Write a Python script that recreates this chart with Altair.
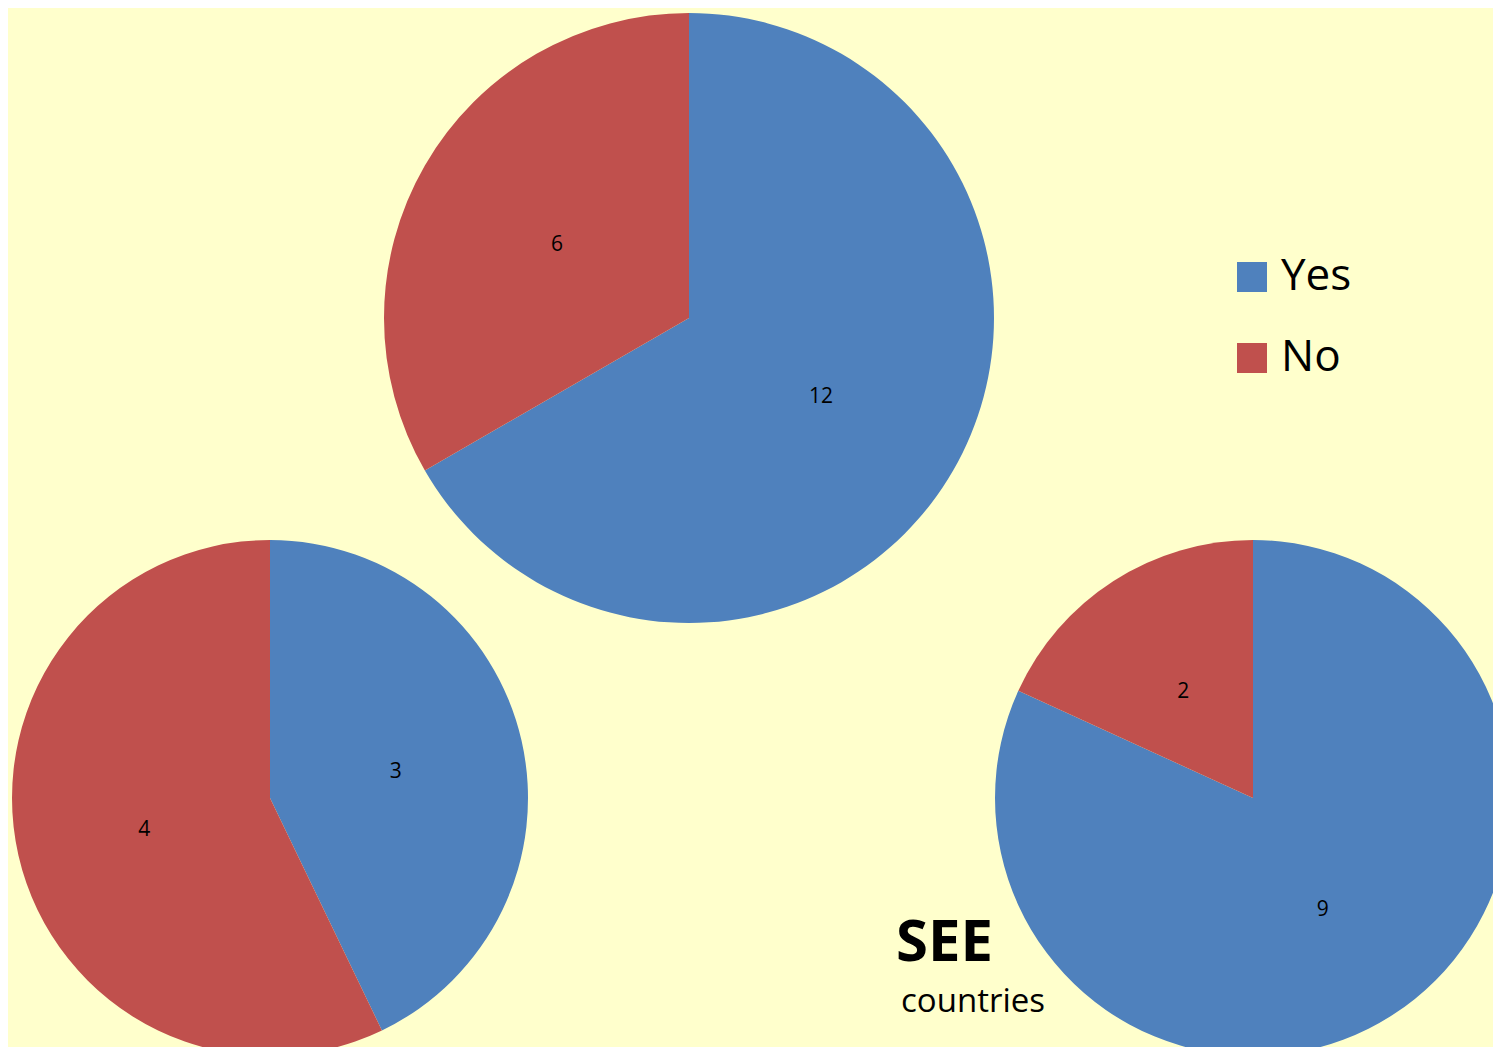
import altair as alt
import pandas as pd

categories = ["Yes", "No"]
colors = ["#4F81BD", "#C0504D"]
pie_top = [12, 6]
pie_left = [3, 4]
pie_right = [9, 2]

W, H = 1485, 1039
BG = "#FFFFCC"
FONT = "Open Sans"


def frame(values):
    return pd.DataFrame({"answer": categories, "value": values, "idx": list(range(len(categories)))})


color = alt.Color(
    "answer:N",
    scale=alt.Scale(domain=categories, range=colors),
    legend=alt.Legend(
        title=None,
        orient="none",
        legendX=1222,
        legendY=247,
        symbolType="square",
        symbolSize=900,
        symbolStrokeWidth=0,
        labelFont=FONT,
        labelFontSize=44,
        labelColor="black",
        labelOffset=7,
        rowPadding=37,
        padding=0,
    ),
)


def pie(values, cx, cy, r):
    base = alt.Chart(frame(values)).encode(
        theta=alt.Theta("value:Q", stack=True),
        order=alt.Order("idx:Q"),
        x=alt.value(cx),
        y=alt.value(cy),
    )
    arc = base.mark_arc(radius=r, stroke=None).encode(color=color)
    txt = base.mark_text(radius=r * 0.5, font=FONT, fontSize=21, color="black",
                         align="center", baseline="middle", dy=3).encode(text="value:Q")
    return alt.layer(arc, txt)


title_df = pd.DataFrame({"t": ["SEE"]})
sub_df = pd.DataFrame({"t": ["countries"]})
see = alt.Chart(title_df).mark_text(font=FONT, fontSize=58, fontWeight="bold", color="black",
                                    align="left", baseline="alphabetic").encode(
    text="t:N", x=alt.value(888), y=alt.value(953))
countries = alt.Chart(sub_df).mark_text(font=FONT, fontSize=33, color="black",
                                        align="left", baseline="alphabetic").encode(
    text="t:N", x=alt.value(893), y=alt.value(1004))

chart = alt.layer(
    pie(pie_top, 681, 310, 305),
    pie(pie_left, 262, 790, 258),
    pie(pie_right, 1245, 790, 258),
    see,
    countries,
).resolve_scale(theta="independent").properties(
    width=W, height=H, background=BG, padding=0,
    autosize=alt.AutoSizeParams(type="none"),
).configure_view(stroke=None, fill=BG)

chart.save("out.html", embed_options={"renderer": "svg", "actions": False})
